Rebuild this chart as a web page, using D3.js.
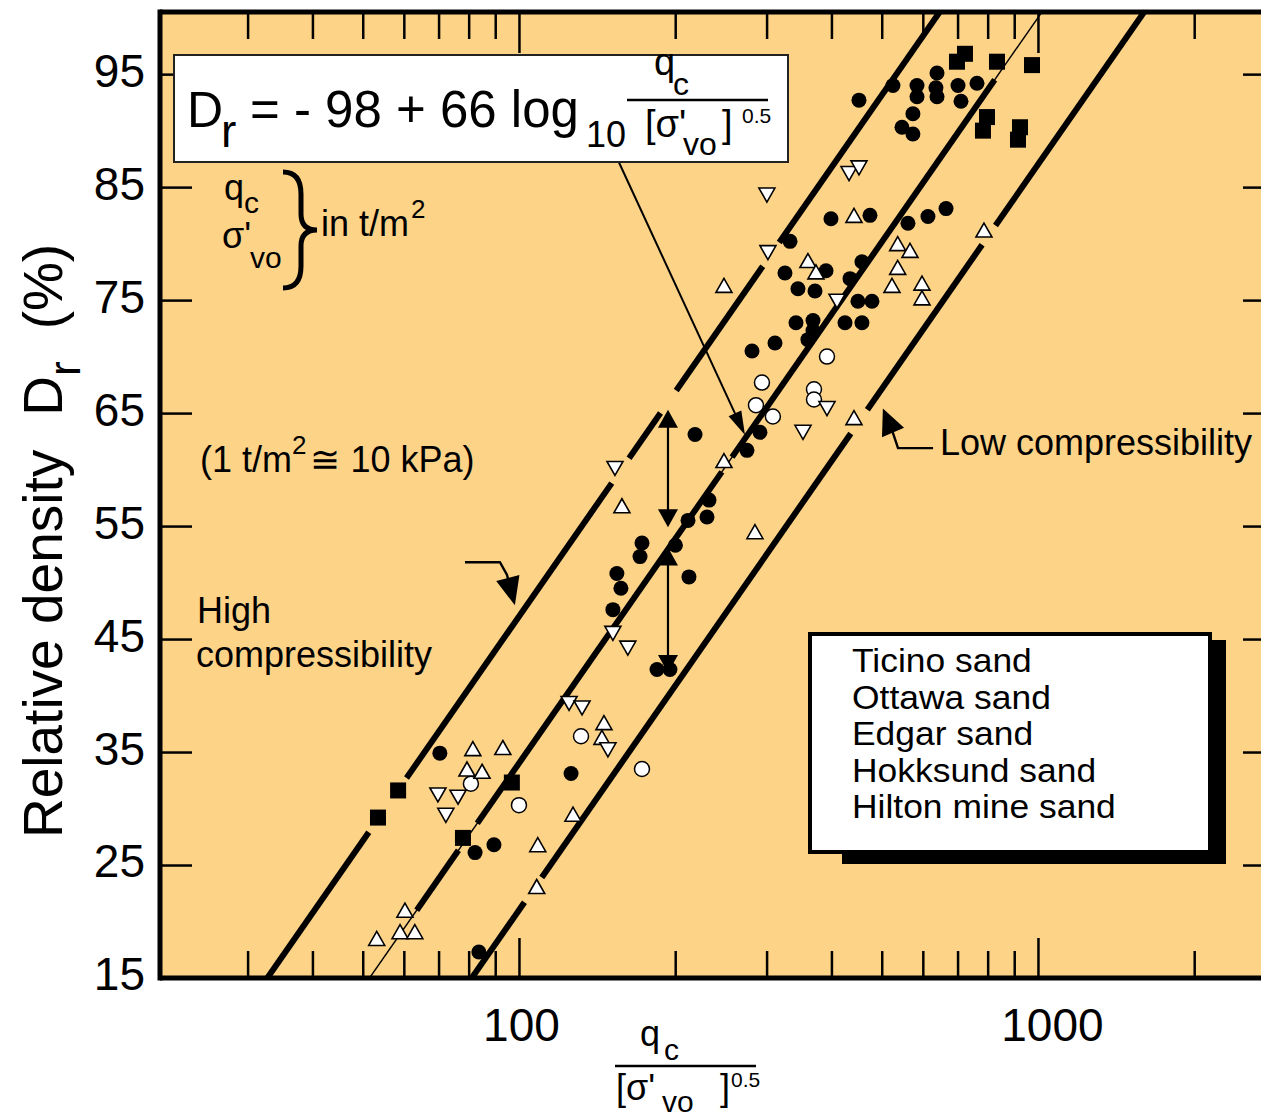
<!DOCTYPE html>
<html lang="en">
<head>
<meta charset="UTF-8">
<title>Relative density vs normalised cone resistance</title>
<script src="https://d3js.org/d3.v7.min.js"></script>
<style>
  html, body { margin: 0; padding: 0; background: #fff; }
  svg { display: block; }
  text { font-family: "Liberation Sans", Arial, sans-serif; fill: #000; }
</style>
</head>
<body>
<svg id="chart" width="1261" height="1119"></svg>
<script>
// ---- data: [qc / sqrt(sigma'vo), Dr %] ----
const ticino = [[70.4,34.9],[83.7,17.3],[82.3,26.1],[89.5,26.8],[126.0,33.1],[184.5,42.3],[195.4,42.3],
  [151.7,47.6],[157.2,49.5],[154.4,50.8],[212.6,50.5],[171.1,52.3],[172.6,53.5],[200.2,53.3],[211.7,55.5],
  [230.3,55.8],[232.4,57.3],[218.4,63.1],[291.3,63.3],[275.0,61.7],[281.2,70.5],[311.4,71.2],[360.4,71.5],
  [341.8,73.0],[368.6,73.2],[368.6,72.3],[424.8,73.0],[458.0,73.0],[344.8,76.0],[371.9,75.8],[449.9,74.9],
  [478.8,74.9],[325.5,77.4],[390.5,77.6],[434.4,76.9],[458.0,78.4],[332.9,80.2],[399.2,82.2],[474.6,82.5],
  [561.7,81.8],[613.8,82.4],[665.1,83.1],[452.0,92.7],[525.5,94.0],[584.7,94.0],[584.7,93.0],[639.0,95.1],
  [636.0,93.8],[639.0,93.0],[701.4,94.0],[763.0,94.2],[710.7,92.6],[574.2,91.5],[547.0,90.3],[574.2,89.7]];
const ottawa = [[80.8,32.2],[100.0,30.3],[131.7,36.4],[172.6,33.5],[293.9,67.7],[392.2,70.0],[370.2,67.1],
  [370.2,66.2],[286.2,65.7],[308.5,64.7]];
const edgar = [[81.5,35.3],[93.1,35.4],[79.4,33.5],[84.9,33.3],[145.8,37.6],[144.5,36.3],[127.1,29.5],
  [108.7,26.8],[108.2,23.1],[60.3,21.0],[59.0,19.1],[63.0,19.1],[53.2,18.5],[157.9,56.8],[248.3,60.8],
  [284.9,54.5],[442.1,64.6],[248.3,76.3],[360.4,78.5],[373.5,77.5],[442.1,82.5],[536.7,80.0],[566.8,79.4],
  [536.7,77.9],[523.3,76.3],[597.8,76.5],[597.8,75.2],[787.0,81.2]];
const hokksund = [[69.8,31.2],[76.3,31.0],[72.3,29.4],[124.9,39.3],[132.3,38.9],[148.4,35.2],[151.7,45.5],
  [162.1,44.2],[153.1,60.1],[352.6,63.3],[392.2,65.4],[410.0,74.9],[301.8,79.2],[300.4,84.3],[432.5,86.2],
  [452.0,86.7]];
const hilton = [[53.5,29.2],[58.5,31.6],[78.0,27.4],[96.9,32.3],[698.2,96.1],[723.4,96.8],[833.8,96.1],
  [973.9,95.8],[797.6,91.2],[783.5,90.0],[923.4,90.3],[915.2,89.2]];

const legendNames = ['Ticino sand', 'Ottawa sand', 'Edgar sand', 'Hokksund sand', 'Hilton mine sand'];

const xMinorTicks = [30,40,50,60,70,80,90,200,300,400,500,600,700,800,900,2000];
const xMajorTicks = [100,1000];
const yTicks = [15,25,35,45,55,65,75,85,95];

// Dr = a + 66 log10(q): centre line and the two band limits, drawn pieces as Dr ranges
const slope = 66;
const upperA = -85, centreA = -98, lowerA = -111;
const upperSegs = [[15,27.9],[32.7,58.8],[61.0,65.0],[67.0,78.0],[80.1,100.5]];
const centreSegs = [[21.0,26.3],[28.7,59.8],[61.1,94.5]];
const lowerSegs = [[15,21.7],[23.9,63.2],[65.3,79.9],[81.6,100.5]];

// annotation arrows in data units
const formulaArrow = [[155.8,87.2],[272.6,63.05]];
const bandArrowUp = [[193.7,54.9],[193.7,65.3]];
const bandArrowDown = [[193.7,53.1],[193.7,42.0]];
const highArrow = [[78.7,51.8],[91.9,51.8],[94.8,50.7],[98.2,48.0]];
const lowArrow = [[627.9,61.9],[537.5,61.9],[523.3,63.5],[502.6,65.4]];

// ---- drawing ----
const svg = d3.select('#chart');
const plot = {left: 160, right: 1263, top: 12, bottom: 978};
const x = d3.scaleLog().domain([20.34, 2714]).range([plot.left, plot.right]);
const y = d3.scaleLinear().domain([15, 100.5]).range([plot.bottom, plot.top]);
const FONT = '"Liberation Sans", Arial, sans-serif';

svg.append('rect').attr('x', plot.left).attr('y', plot.top)
  .attr('width', plot.right - plot.left).attr('height', plot.bottom - plot.top)
  .attr('fill', '#FDD388');

svg.append('defs').append('clipPath').attr('id', 'clip').append('rect')
  .attr('x', plot.left).attr('y', plot.top)
  .attr('width', plot.right - plot.left).attr('height', plot.bottom - plot.top);

function styleAxis(g) {
  g.select('.domain').remove();
  g.selectAll('.tick line').attr('stroke', '#000').attr('stroke-width', 2.5);
  g.selectAll('text').attr('font-family', FONT).attr('font-size', 46).attr('fill', '#000');
}

// bottom
svg.append('g').attr('transform', `translate(0,${plot.bottom})`)
  .call(d3.axisBottom(x).tickValues(xMinorTicks).tickSize(-27).tickFormat('')).call(styleAxis);
svg.append('g').attr('transform', `translate(0,${plot.bottom})`)
  .call(d3.axisBottom(x).tickValues(xMajorTicks).tickSize(-40).tickPadding(30).tickFormat(d3.format('d')))
  .call(styleAxis)
  .selectAll('text').attr('dx', d => d === 1000 ? 14 : 2);
// top
svg.append('g').attr('transform', `translate(0,${plot.top})`)
  .call(d3.axisTop(x).tickValues(xMinorTicks).tickSize(-27).tickFormat('')).call(styleAxis);
svg.append('g').attr('transform', `translate(0,${plot.top})`)
  .call(d3.axisTop(x).tickValues(xMajorTicks).tickSize(-41).tickFormat('')).call(styleAxis);
// left
svg.append('g').attr('transform', `translate(${plot.left},0)`)
  .call(d3.axisLeft(y).tickValues(yTicks).tickSize(-32).tickPadding(15).tickFormat(d3.format('d')))
  .call(styleAxis)
  .selectAll('text').attr('dy', '0.26em');
// right
svg.append('g').attr('transform', `translate(${plot.right},0)`)
  .call(d3.axisRight(y).tickValues(yTicks).tickSize(-20).tickFormat('')).call(styleAxis);

// frame
const frame = svg.append('g').attr('stroke', '#000').attr('stroke-width', 5);
frame.append('line').attr('x1', plot.left).attr('x2', plot.left).attr('y1', plot.top - 2.5).attr('y2', plot.bottom + 2.5);
frame.append('line').attr('x1', plot.left).attr('x2', plot.right).attr('y1', plot.top).attr('y2', plot.top);
frame.append('line').attr('x1', plot.left).attr('x2', plot.right).attr('y1', plot.bottom).attr('y2', plot.bottom);

// lines
const qAt = (a, dr) => Math.pow(10, (dr - a) / slope);
const line = d3.line().x(d => x(d[0])).y(d => y(d[1]));
const lines = svg.append('g').attr('clip-path', 'url(#clip)').attr('fill', 'none').attr('stroke', '#000');
lines.append('path').attr('stroke-width', 1.4)
  .attr('d', line([[qAt(centreA, 15), 15], [qAt(centreA, 100.5), 100.5]]));
[[upperA, upperSegs], [centreA, centreSegs], [lowerA, lowerSegs]].forEach(([a, segs]) => {
  segs.forEach(([d0, d1]) => {
    lines.append('path').attr('stroke-width', 6)
      .attr('d', line([[qAt(a, d0), d0], [qAt(a, d1), d1]]));
  });
});

// markers
const pts = svg.append('g').attr('clip-path', 'url(#clip)');
pts.selectAll('.ticino').data(ticino).join('circle')
  .attr('cx', d => x(d[0])).attr('cy', d => y(d[1])).attr('r', 7.5).attr('fill', '#000');
pts.selectAll('.ottawa').data(ottawa).join('circle')
  .attr('cx', d => x(d[0])).attr('cy', d => y(d[1])).attr('r', 7.5)
  .attr('fill', '#fff').attr('stroke', '#000').attr('stroke-width', 1.5);
pts.selectAll('.edgar').data(edgar).join('path')
  .attr('transform', d => `translate(${x(d[0])},${y(d[1])})`)
  .attr('d', 'M0,-7L8,7L-8,7Z').attr('fill', '#fff').attr('stroke', '#000').attr('stroke-width', 1.6);
pts.selectAll('.hokksund').data(hokksund).join('path')
  .attr('transform', d => `translate(${x(d[0])},${y(d[1])})`)
  .attr('d', 'M0,7L8,-7L-8,-7Z').attr('fill', '#fff').attr('stroke', '#000').attr('stroke-width', 1.6);
pts.selectAll('.hilton').data(hilton).join('rect')
  .attr('x', d => x(d[0]) - 8).attr('y', d => y(d[1]) - 8).attr('width', 16).attr('height', 16)
  .attr('fill', '#000');

// arrows
function arrow(data, opt) {
  const o = Object.assign({head: 22, width: 16, sw: 2.2, both: false}, opt);
  const p = data.map(d => [x(d[0]), y(d[1])]);
  const g = svg.append('g');
  const headAt = (tip, from) => {
    const dx = tip[0] - from[0], dy = tip[1] - from[1], L = Math.hypot(dx, dy);
    const ux = dx / L, uy = dy / L;
    const bx = tip[0] - ux * o.head, by = tip[1] - uy * o.head;
    g.append('path').attr('fill', '#000')
      .attr('d', `M${tip[0]},${tip[1]}L${bx - uy * o.width / 2},${by + ux * o.width / 2}L${bx + uy * o.width / 2},${by - ux * o.width / 2}Z`);
    return [bx + ux * 2, by + uy * 2];
  };
  const shaft = p.slice();
  shaft[shaft.length - 1] = headAt(p[p.length - 1], p[p.length - 2]);
  if (o.both) shaft[0] = headAt(p[0], p[1]);
  g.insert('path', ':first-child').attr('fill', 'none').attr('stroke', '#000').attr('stroke-width', o.sw)
    .attr('d', d3.line()(shaft));
}
arrow(formulaArrow, {head: 24, width: 14, sw: 2});
arrow(bandArrowUp, {head: 18, width: 20, sw: 2.2, both: true});
arrow(bandArrowDown, {head: 18, width: 20, sw: 2.2, both: true});
arrow(highArrow, {head: 28, width: 24, sw: 2.4});
arrow(lowArrow, {head: 26, width: 24, sw: 2.4});

// formula box
const fb = svg.append('g');
fb.append('rect').attr('x', 174).attr('y', 55).attr('width', 614).attr('height', 107)
  .attr('fill', '#fff').attr('stroke', '#222').attr('stroke-width', 2);
const t = (g, tx, ty, size, str) => g.append('text').attr('x', tx).attr('y', ty).attr('font-size', size).text(str);
t(fb, 187, 127, 50, 'D');
t(fb, 221, 147, 46, 'r');
t(fb, 250, 127, 51, '= - 98 + 66 log');
t(fb, 586, 147, 36, '10');
t(fb, 654, 75, 38, 'q');
t(fb, 673, 95, 32, 'c');
fb.append('line').attr('x1', 627).attr('x2', 768).attr('y1', 100).attr('y2', 100).attr('stroke', '#000').attr('stroke-width', 2.5);
t(fb, 645, 137, 38, "[σ'");
t(fb, 683, 155, 32, 'vo');
t(fb, 722, 137, 38, ']');
t(fb, 742, 123, 21, '0.5');

// units note
const un = svg.append('g');
t(un, 224, 200, 36, 'q');
t(un, 244, 213, 30, 'c');
t(un, 222, 248, 36, "σ'");
t(un, 250, 268, 30, 'vo');
un.append('path').attr('fill', 'none').attr('stroke', '#000').attr('stroke-width', 5)
  .attr('d', 'M283,172 Q301,172 301,194 L301,214 Q301,230 317,230 Q301,230 301,246 L301,266 Q301,288 283,288');
t(un, 321, 236, 36, 'in t/m');
t(un, 411, 218, 26, '2');

const kpa = svg.append('text').attr('x', 200).attr('y', 472).attr('font-size', 36);
kpa.append('tspan').text('(1 t/m');
kpa.append('tspan').attr('dy', -18).attr('font-size', 26).text('2');
kpa.append('tspan').attr('dy', 18).attr('dx', 4).text('≅ 10 kPa)');

t(svg, 197, 623, 36, 'High');
t(svg, 196, 667, 36, 'compressibility');
t(svg, 940, 455, 36, 'Low compressibility');

// legend
const lg = svg.append('g');
lg.append('path').attr('fill', '#000').attr('d', 'M1212,640H1226V864H842V854H1212Z');
lg.append('rect').attr('x', 810).attr('y', 634).attr('width', 400).attr('height', 218)
  .attr('fill', '#fff').attr('stroke', '#000').attr('stroke-width', 4);
legendNames.forEach((n, i) => lg.append('text')
  .attr('transform', `translate(852,${672 + i * 36.6}) scale(1.09,1)`)
  .attr('font-size', 32.5).text(n));

// axis titles
const yl = svg.append('text').attr('transform', 'translate(62,838) rotate(-90)').attr('font-size', 55);
yl.append('tspan').text('Relative density');
yl.append('tspan').attr('dx', 34).text('D');
yl.append('tspan').attr('dy', 18).attr('font-size', 44).text('r');
yl.append('tspan').attr('dy', -18).attr('dx', 32).text('(%)');

const xl = svg.append('g');
t(xl, 640, 1046, 36, 'q');
t(xl, 664, 1060, 30, 'c');
xl.append('line').attr('x1', 615).attr('x2', 756).attr('y1', 1066).attr('y2', 1066).attr('stroke', '#000').attr('stroke-width', 2.5);
t(xl, 616, 1100, 36, "[σ'");
t(xl, 662, 1112, 30, 'vo');
t(xl, 720, 1100, 36, ']');
t(xl, 731, 1087, 21, '0.5');
</script>
</body>
</html>
